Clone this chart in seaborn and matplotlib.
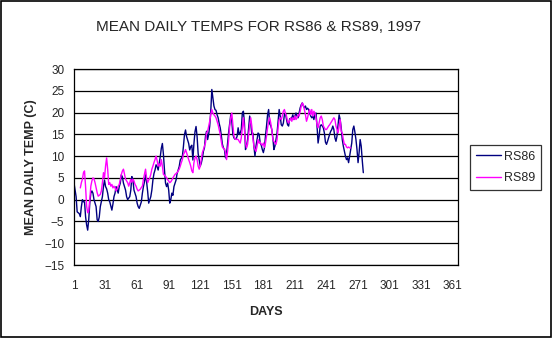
import matplotlib
matplotlib.use("Agg")
import matplotlib.pyplot as plt
import seaborn as sns
import pandas as pd
from matplotlib.patches import Rectangle
from matplotlib.lines import Line2D

# ---------------- data ----------------
days_rs86 = [1, 3, 4, 6, 7, 8, 9, 10, 11, 12, 13, 14, 15, 16, 17, 18, 19, 20, 22, 23,
             24, 25, 26, 28, 29, 30, 31, 32, 33, 34, 35, 36, 37, 38, 39, 40, 41, 42, 43, 44,
             45, 46, 47, 48, 50, 51, 52, 54, 55, 56, 57, 58, 60, 61, 62, 63, 65, 66, 67, 68,
             69, 70, 71, 72, 74, 75, 76, 77, 78, 79, 80, 81, 82, 83, 84, 85, 86, 87, 88, 89,
             90, 91, 92, 93, 94, 95, 96, 98, 99, 101, 102, 104, 105, 106, 107, 108, 109, 110, 111, 112,
             113, 114, 115, 116, 117, 118, 119, 120, 121, 122, 123, 124, 125, 126, 127, 128, 129, 130, 131, 132,
             133, 134, 135, 136, 137, 138, 139, 140, 141, 142, 143, 144, 145, 146, 147, 148, 149, 150, 151, 152,
             153, 154, 155, 156, 157, 158, 159, 160, 161, 162, 163, 164, 165, 166, 167, 168, 169, 170, 171, 172,
             173, 174, 175, 176, 177, 178, 179, 180, 181, 182, 183, 184, 185, 186, 187, 188, 189, 190, 191, 192,
             193, 194, 195, 196, 197, 198, 199, 200, 201, 202, 203, 204, 205, 206, 207, 208, 209, 210, 211, 212,
             213, 214, 215, 216, 217, 218, 219, 220, 221, 222, 223, 224, 225, 226, 227, 228, 229, 230, 231, 232,
             233, 234, 235, 236, 237, 238, 239, 240, 241, 242, 243, 244, 245, 246, 247, 248, 249, 250, 251, 252,
             253, 254, 255, 256, 257, 258, 259, 260, 261, 262, 263, 264, 265, 266, 267, 268, 269, 270, 271, 272,
             273, 274, 275, 276]
temp_rs86 = [3.8, 0.7, -2.8, -3.2, -3.9, -1.6, 0.0, -0.5, -0.5, -3.9, -5.8, -7.0, -4.6, -0.8, 1.5, 2.0, 1.5, 0.0, -1.6, -4.6,
             -5.0, -4.0, -1.6, 0.7, 3.0, 4.5, 3.0, 2.5, 1.5, 0.0, -0.5, -1.5, -2.4, -1.0, 0.7, 1.5, 3.0, 2.2, 1.5, 3.0,
             3.8, 5.7, 5.2, 3.8, 2.2, 0.7, 0.0, 0.7, 2.2, 5.3, 4.5, 2.2, 0.7, -0.8, -1.6, -2.0, -0.5, 1.5, 3.0, 4.1,
             5.7, 4.1, 1.9, -0.8, 0.7, 2.2, 4.5, 6.0, 6.8, 8.0, 7.6, 6.8, 8.4, 9.9, 11.8, 12.9, 10.4, 6.8, 3.8, 3.0,
             3.8, 2.2, -0.8, 0.0, 1.5, 1.0, 3.0, 4.5, 6.0, 7.6, 9.1, 9.9, 12.2, 14.9, 16.0, 14.5, 13.7, 12.9, 11.4, 12.2,
             12.5, 9.1, 12.9, 15.6, 16.8, 14.5, 10.6, 9.1, 7.7, 8.4, 9.5, 11.1, 11.9, 14.6, 15.7, 13.8, 15.0, 16.9, 20.3, 25.3,
             23.4, 21.5, 20.7, 20.5, 19.5, 18.8, 17.5, 16.5, 14.8, 12.8, 11.9, 11.5, 9.6, 10.5, 13.0, 15.5, 17.5, 19.5, 18.0, 15.0,
             14.2, 13.9, 14.0, 14.5, 16.5, 15.0, 15.3, 16.1, 19.9, 20.3, 17.6, 11.5, 12.3, 13.8, 16.5, 19.2, 17.6, 15.0, 15.3, 12.3,
             10.0, 12.3, 13.8, 15.3, 15.0, 13.0, 12.5, 11.5, 10.8, 11.9, 14.6, 16.9, 19.5, 20.7, 17.4, 17.0, 16.1, 14.2, 11.5, 12.3,
             13.8, 15.3, 18.0, 20.7, 19.2, 17.2, 16.9, 17.6, 19.5, 19.9, 18.4, 17.2, 16.9, 18.6, 18.4, 18.8, 19.5, 18.4, 19.2, 19.9,
             19.2, 18.8, 19.9, 21.1, 21.8, 22.2, 21.5, 21.1, 21.5, 20.7, 21.0, 20.7, 19.9, 19.2, 18.8, 19.2, 18.4, 19.5, 19.9, 16.9,
             13.0, 14.6, 16.9, 17.2, 16.9, 16.5, 15.3, 13.2, 12.7, 13.4, 14.2, 15.0, 15.7, 16.1, 16.9, 16.1, 14.2, 13.4, 14.6, 17.2,
             19.5, 18.4, 16.5, 13.8, 12.3, 11.1, 10.0, 9.2, 9.6, 8.5, 10.0, 11.5, 13.0, 16.1, 16.9, 15.5, 13.8, 11.5, 8.5, 10.8,
             13.8, 12.3, 9.0, 6.2]

days_rs89 = list(range(7, 265))
temp_rs89 = [2.7, 3.9, 4.7, 6.2, 6.6, 3.0, -1.5, -3.0, -2.6, 0.0, 3.1, 4.3, 5.0, 4.8, 3.9, 2.7, 1.6, 0.8, 1.0, 1.2,
             2.0, 3.9, 6.2, 5.0, 7.7, 9.6, 7.0, 3.5, 3.9, 3.1, 3.5, 2.7, 3.1, 2.7, 2.0, 2.5, 3.1, 3.5, 4.7, 5.8,
             6.6, 7.0, 5.8, 4.7, 4.3, 3.9, 3.1, 3.9, 4.7, 4.0, 4.7, 4.3, 3.5, 3.1, 2.4, 2.0, 2.2, 2.4, 2.8, 3.1,
             4.7, 5.8, 7.0, 5.0, 3.9, 4.5, 5.0, 5.8, 7.0, 7.7, 8.5, 9.2, 10.0, 9.0, 7.7, 8.2, 7.7, 9.2, 7.7, 5.8,
             5.6, 5.4, 5.0, 4.6, 4.3, 3.9, 4.1, 4.5, 5.0, 5.4, 5.8, 6.0, 6.2, 6.6, 7.0, 7.7, 8.5, 9.2, 10.4, 10.8,
             11.5, 10.8, 10.0, 9.2, 8.5, 7.7, 6.6, 6.2, 8.5, 9.6, 10.0, 9.2, 7.7, 7.0, 7.7, 9.2, 10.8, 11.5, 12.3, 13.1,
             15.3, 15.7, 16.9, 18.0, 19.5, 20.7, 19.9, 19.5, 19.2, 18.8, 18.0, 17.2, 16.1, 15.0, 13.4, 12.1, 11.8, 11.7, 10.8, 9.2,
             11.1, 13.8, 16.9, 18.8, 19.9, 17.2, 14.6, 14.0, 13.8, 13.9, 13.8, 13.4, 13.0, 14.2, 16.5, 18.8, 16.1, 13.0, 11.9, 12.7,
             15.0, 17.2, 18.8, 16.9, 14.2, 12.3, 11.5, 11.1, 12.3, 13.8, 13.0, 13.2, 12.7, 12.5, 13.0, 12.0, 13.0, 14.6, 16.5, 18.0,
             18.8, 17.6, 16.1, 13.8, 13.4, 13.0, 12.7, 13.8, 16.5, 18.4, 18.8, 18.4, 19.2, 20.3, 20.7, 19.8, 19.2, 18.0, 17.6, 18.2,
             18.8, 18.0, 18.8, 18.4, 19.2, 18.4, 18.8, 19.5, 19.2, 20.3, 21.5, 22.2, 21.8, 20.7, 19.5, 18.0, 18.8, 19.9, 20.7, 19.5,
             20.7, 19.2, 20.3, 19.9, 18.8, 17.2, 16.5, 17.6, 18.8, 19.2, 18.4, 16.9, 16.5, 16.1, 16.1, 16.5, 16.9, 17.2, 17.6, 18.0,
             18.4, 18.8, 18.4, 16.9, 16.1, 15.3, 16.9, 18.4, 15.7, 15.3, 13.8, 12.7, 12.7, 12.1, 11.9, 12.1, 11.9, 11.9]

series_names = ["RS86", "RS89"]
series_colors = ["#000080", "#FF00FF"]
x_ticks = list(range(1, 362, 30))
y_ticks = list(range(-15, 31, 5))

title = "MEAN DAILY TEMPS FOR RS86 & RS89, 1997"
x_label = "DAYS"
y_label = "MEAN DAILY TEMP (C)"

# ---------------- build table ----------------
df = pd.concat([
    pd.DataFrame({"day": days_rs86, "temp": temp_rs86, "station": series_names[0]}),
    pd.DataFrame({"day": days_rs89, "temp": temp_rs89, "station": series_names[1]}),
], ignore_index=True)

sns.set_style("white")
plt.rcParams["font.family"] = ["Liberation Sans", "DejaVu Sans"]

fig = plt.figure(figsize=(5.52, 3.38), dpi=100)
ax = fig.add_axes([74 / 552, 1 - 265 / 338, (458 - 74) / 552, (265 - 69) / 338])

sns.lineplot(data=df, x="day", y="temp", hue="station", hue_order=series_names,
             palette=dict(zip(series_names, series_colors)), estimator=None,
             sort=True, linewidth=1.0, ax=ax, legend=False)

ax.set_xlim(1, 366)
ax.set_ylim(-15, 30)
ax.set_xticks(x_ticks)
ax.set_yticks(y_ticks)
ax.yaxis.grid(True, color="black", linewidth=0.9)
ax.xaxis.grid(False)
ax.set_axisbelow(True)
for s in ax.spines.values():
    s.set_visible(True)
    s.set_color("black")
    s.set_linewidth(0.9)
ax.tick_params(axis="both", direction="out", length=4, width=0.9, color="black",
               labelsize=8.5, pad=3)
ax.tick_params(axis="x", pad=7)

ax.set_xlabel(x_label, fontsize=9, fontweight="bold", labelpad=10)
ax.set_ylabel(y_label, fontsize=9, fontweight="bold", labelpad=5)
fig.text(259 / 552, 1 - 27 / 338, title, fontsize=11, ha="center", va="center")

# legend
handles = [Line2D([0], [0], color=c, lw=1.0) for c in series_colors]
leg = ax.legend(handles, series_names, loc="upper left",
                bbox_to_anchor=(470 / 552, 1 - 145 / 338), bbox_transform=fig.transFigure,
                borderaxespad=0, frameon=True, fancybox=False, shadow=False,
                fontsize=9, handlelength=2.0, handletextpad=0.3, borderpad=0.45,
                labelspacing=0.75)
leg.get_frame().set_edgecolor("black")
leg.get_frame().set_linewidth(0.9)

# outer chart border
fig.patches.append(Rectangle((0.001, 0.002), 0.997, 0.995, transform=fig.transFigure,
                             fill=False, edgecolor="black", linewidth=1.2))

fig.savefig("out.png", dpi=100, facecolor="white")
